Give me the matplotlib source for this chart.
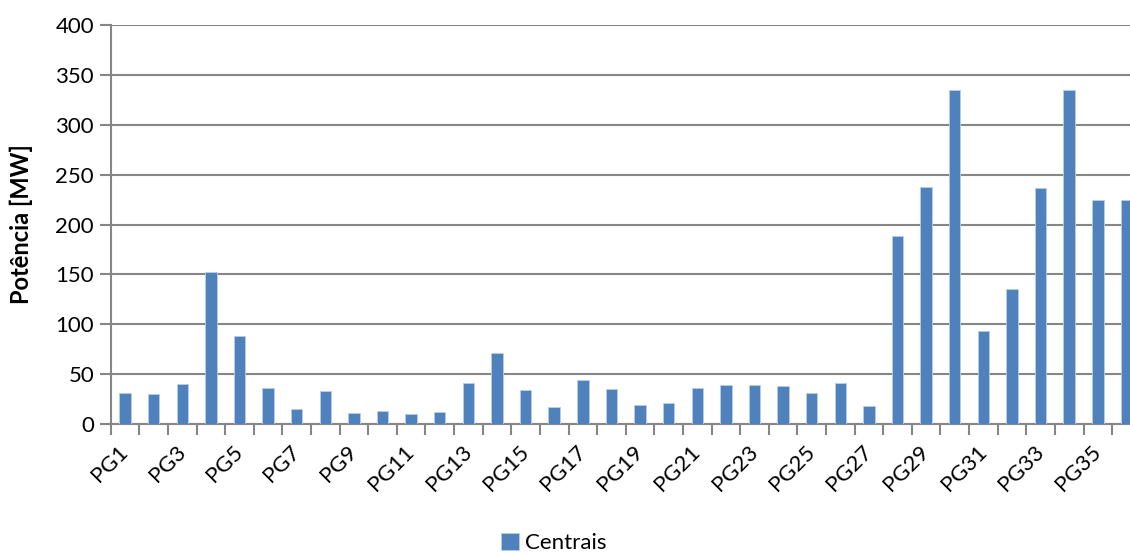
import numpy as np
import matplotlib.pyplot as plt

categories = ['PG{}'.format(i) for i in range(1, 37)]
potencia = [31, 30, 40, 152, 88, 36, 15, 33, 11, 13,
            10, 12, 41, 71, 34, 17, 44, 35, 19, 21,
            36, 39, 39, 38, 31, 41, 18, 189, 238, 335,
            93, 135, 237, 335, 225, 225]
yticks = [0, 50, 100, 150, 200, 250, 300, 350, 400]

plt.rcParams['font.family'] = ['Lato', 'DejaVu Sans']
grey = '#868686'

fig = plt.figure(figsize=(11.3, 5.54), dpi=100)
ax = fig.add_axes([0.098, 0.2347, 0.9115, 0.72])

x = np.arange(len(categories))
bars = ax.bar(x, potencia, width=0.4, color='#4F81BD', edgecolor='#B9CDE5',
              linewidth=0.6, label='Centrais', zorder=3)

ax.set_xlim(-0.5, len(categories) - 0.5)
ax.set_ylim(0, 400)
ax.set_yticks(yticks)
ax.yaxis.grid(True, color=grey, linewidth=1.5, zorder=0)
ax.tick_params(axis='y', length=8, width=1.5, color=grey, labelsize=16, pad=4)

ax.set_xticks(x[::2])
ax.set_xticklabels(categories[::2], rotation=45, ha='right', va='center',
                   rotation_mode='anchor', fontsize=16)
ax.set_xticks(np.arange(-0.5, len(categories)), minor=True)
ax.tick_params(axis='x', which='major', length=0, pad=18)
ax.tick_params(axis='x', which='minor', length=8, width=1.5, color=grey)

for s in ['top', 'right']:
    ax.spines[s].set_visible(False)
for s in ['left', 'bottom']:
    ax.spines[s].set_color(grey)
    ax.spines[s].set_linewidth(1.5)

ax.set_ylabel('Potência [MW]', fontsize=17, fontweight='bold')
ax.yaxis.set_label_coords(-0.075, 0.5)

fig.legend(handles=[bars], labels=['Centrais'], loc='center',
           bbox_to_anchor=(0.49, 0.02), frameon=False, fontsize=16,
           handlelength=0.8, handleheight=0.8, handletextpad=0.3)

plt.savefig('out.png', dpi=100)
